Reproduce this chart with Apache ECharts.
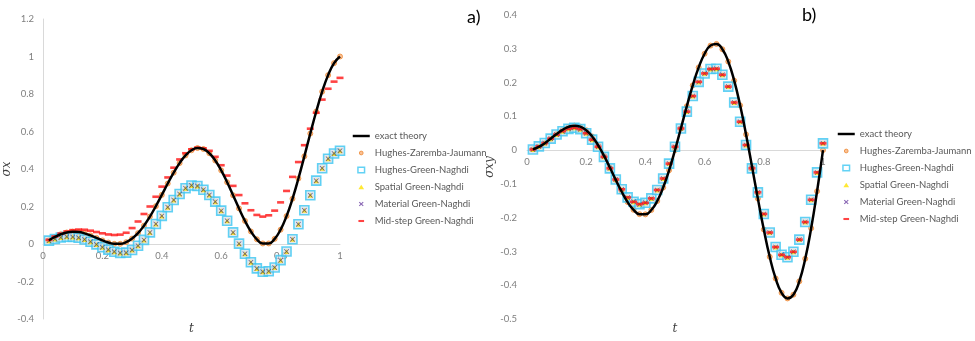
<!DOCTYPE html>
<html><head><meta charset="utf-8">
<script src="https://cdn.jsdelivr.net/npm/echarts@6/dist/echarts.min.js"></script>
<style>html,body{margin:0;padding:0;background:#fff}#c{width:975px;height:341px}</style>
</head><body><div id="c"></div>
<script>
// time samples
const T = [0.02,0.04,0.06,0.08,0.10,0.12,0.14,0.16,0.18,0.20,0.22,0.24,0.26,0.28,0.30,0.32,0.34,0.36,0.38,0.40,
  0.42,0.44,0.46,0.48,0.50,0.52,0.54,0.56,0.58,0.60,0.62,0.64,0.66,0.68,0.70,0.72,0.74,0.76,0.78,0.80,
  0.82,0.84,0.86,0.88,0.90,0.92,0.94,0.96,0.98,1.00];

// a) sigma x
const sxExact = [0.0197,0.0375,0.0519,0.0614,0.0655,0.0638,0.0569,0.0459,0.0326,0.0191,0.0077,0.0009,0.0010,0.0098,0.0287,0.0580,0.0976,0.1463,0.2019,0.2618,
  0.3225,0.3804,0.4315,0.4725,0.5000,0.5118,0.5066,0.4841,0.4454,0.3927,0.3295,0.2600,0.1895,0.1233,0.0669,0.0253,0.0029,0.0030,0.0274,0.0764,
  0.1487,0.2412,0.3494,0.4676,0.5891,0.7065,0.8126,0.9006,0.9646,1.0000];
const sxHZJ = sxExact.slice();
const sxGN = [0.018,0.027,0.035,0.039,0.038,0.033,0.024,0.012,-0.002,-0.017,-0.030,-0.041,-0.048,-0.046,-0.032,-0.009,0.022,0.062,0.107,0.150,
  0.196,0.235,0.267,0.297,0.312,0.309,0.289,0.261,0.226,0.178,0.124,0.062,0.002,-0.052,-0.097,-0.130,-0.148,-0.145,-0.125,-0.086,
  -0.040,0.025,0.105,0.180,0.260,0.338,0.404,0.455,0.483,0.497];
const sxSpatial = sxGN.slice();
const sxMaterial = sxGN.slice();
const sxMid = [0.022,0.040,0.056,0.067,0.074,0.077,0.076,0.071,0.064,0.057,0.051,0.048,0.050,0.060,0.085,0.120,0.160,0.200,0.252,0.306,
  0.355,0.407,0.451,0.484,0.505,0.514,0.510,0.497,0.465,0.420,0.365,0.310,0.261,0.217,0.180,0.155,0.146,0.153,0.178,0.222,
  0.283,0.358,0.437,0.527,0.615,0.700,0.770,0.828,0.866,0.886];

// b) sigma xy
const sxyExact = [0.0025,0.0096,0.0205,0.0338,0.0476,0.0599,0.0688,0.0724,0.0693,0.0588,0.0405,0.0150,-0.0163,-0.0515,-0.0882,-0.1233,-0.1538,-0.1768,-0.1896,-0.1902,
  -0.1773,-0.1506,-0.1108,-0.0597,0.0000,0.0647,0.1301,0.1917,0.2448,0.2853,0.3094,0.3143,0.2986,0.2620,0.2057,0.1325,0.0464,-0.0476,-0.1436,-0.2351,
  -0.3159,-0.3800,-0.4224,-0.4391,-0.4280,-0.3884,-0.3217,-0.2313,-0.1219,0.0000];
const sxyHZJ = sxyExact.slice();
const sxyGN = [0.002,0.011,0.021,0.034,0.046,0.056,0.063,0.066,0.062,0.050,0.031,0.010,-0.020,-0.054,-0.087,-0.116,-0.140,-0.153,-0.160,-0.156,
  -0.143,-0.118,-0.084,-0.040,0.010,0.064,0.114,0.160,0.202,0.227,0.240,0.241,0.223,0.188,0.141,0.084,0.015,-0.054,-0.125,-0.189,
  -0.244,-0.287,-0.310,-0.317,-0.301,-0.265,-0.213,-0.147,-0.066,0.020];
const sxySpatial = sxyGN.slice();
const sxyMaterial = sxyGN.slice();
const sxyMid = sxyGN.slice();

const names = ['exact theory','Hughes-Zaremba-Jaumann','Hughes-Green-Naghdi','Spatial Green-Naghdi','Material Green-Naghdi','Mid-step Green-Naghdi'];

const FONT = 'Lato';
const LBL = '#7f7f7f';
const AX = '#d9d9d9';
const CROSS = 'path://M0,1L1,0L5,4L9,0L10,1L6,5L10,9L9,10L5,6L1,10L0,9L4,5Z';
const ICON = {
  line: 'path://M0,0M18,7M0,2.2H18V4.8H0Z',
  circle: 'path://M0,0M18,7M11,3.5A2,2 0 1 1 7,3.5A2,2 0 1 1 11,3.5Z',
  square: 'path://M0,0M18,7M5.5,0.5H12.5V6.5H5.5Z',
  tri: 'path://M0,0M18,7M9,1L12,6H6Z',
  cross: 'path://M0,0M18,7M6.5,1.8L7.3,1L9,2.7L10.7,1L11.5,1.8L9.8,3.5L11.5,5.2L10.7,6L9,4.3L7.3,6L6.5,5.2L8.2,3.5Z',
  dash: 'path://M0,0M18,7M6,2.4H12V4.6H6Z'
};
const ST = {
  hzj: {color:'#f9b27a', borderColor:'#ee8a35', borderWidth:1},
  hgn: {color:'rgba(205,218,228,0.75)', borderColor:'#3cc7f2', borderWidth:1.6},
  sp: {color:'#ffe200'},
  mat: {color:'#45306a'},
  mid: {color:'#ff1414'}
};

function pairs(v){ return T.map((t,i)=>[t, v[i]]); }
function mk(g, ex, hzj, hgn, sp, mat, mid){
  return [
    {name:names[0], type:'line', xAxisIndex:g, yAxisIndex:g, data:pairs(ex), smooth:true, symbol:'none',
      lineStyle:{color:'#000', width:2.5}, itemStyle:{color:'#000'}},
    {name:names[1], type:'scatter', xAxisIndex:g, yAxisIndex:g, data:pairs(hzj), symbol:'circle', symbolSize:5, itemStyle:ST.hzj},
    {name:names[2], type:'scatter', xAxisIndex:g, yAxisIndex:g, data:pairs(hgn), symbol:'rect', symbolSize:9, itemStyle:ST.hgn},
    {name:names[3], type:'scatter', xAxisIndex:g, yAxisIndex:g, data:pairs(sp), symbol:'triangle', symbolSize:5, itemStyle:ST.sp},
    {name:names[4], type:'scatter', xAxisIndex:g, yAxisIndex:g, data:pairs(mat), symbol:CROSS, symbolSize:5, itemStyle:ST.mat},
    {name:names[5], type:'scatter', xAxisIndex:g, yAxisIndex:g, data:pairs(mid), symbol:'rect', symbolSize:[7,2.6], itemStyle:ST.mid}
  ];
}
function legendData(){
  return [
    {name:names[0], icon:ICON.line, itemStyle:{color:'#000', borderWidth:0}},
    {name:names[1], icon:ICON.circle, itemStyle:ST.hzj},
    {name:names[2], icon:ICON.square, itemStyle:{color:'#fff', borderColor:'#3cc7f2', borderWidth:1.5}},
    {name:names[3], icon:ICON.tri, itemStyle:ST.sp},
    {name:names[4], icon:ICON.cross, itemStyle:{color:'#6a3fa0'}},
    {name:names[5], icon:ICON.dash, itemStyle:ST.mid}
  ];
}
function fmt(v){ const r = Math.round(v*10)/10; return String(r); }
function xAx(g, off, gap){
  return {type:'value', gridIndex:g, min:0, max:1, interval:0.2, position:'bottom', offset:off,
    axisLine:{show:true, onZero:false, lineStyle:{color:AX, width:1}}, axisTick:{show:false}, splitLine:{show:false},
    axisLabel:{color:LBL, fontSize:9.5, fontFamily:FONT, margin:7, formatter:fmt},
    name:'t', nameLocation:'middle', nameGap:gap,
    nameTextStyle:{fontStyle:'italic', fontFamily:'DejaVu Serif', fontSize:12, color:'#404040'}};
}
function yAx(g, min, max, iv, nm, showLine, margin){
  return {type:'value', gridIndex:g, min:min, max:max, interval:iv,
    axisLine:{show:showLine, onZero:false, lineStyle:{color:AX, width:1}}, axisTick:{show:false}, splitLine:{show:false},
    axisLabel:{color:LBL, fontSize:9.5, fontFamily:FONT, margin:margin, formatter:fmt},
    name:nm, nameLocation:'middle', nameGap:30, nameRotate:90,
    nameTextStyle:{fontStyle:'italic', fontFamily:'DejaVu Serif', fontSize:12, color:'#404040'}};
}

const chart = echarts.init(document.getElementById('c'));
chart.setOption({
  animation:false,
  backgroundColor:'#fff',
  title:[
    {text:'a)', left:462, top:3, textStyle:{fontSize:18, fontWeight:'normal', color:'#000', fontFamily:FONT}},
    {text:'b)', left:797, top:1, textStyle:{fontSize:18, fontWeight:'normal', color:'#000', fontFamily:FONT}}
  ],
  grid:[
    {left:43, top:19, width:297, height:300, outerBoundsMode:'none', containLabel:false},
    {left:527, top:15, width:296, height:304, outerBoundsMode:'none', containLabel:false}
  ],
  xAxis:[xAx(0, -75, 79), xAx(1, -169, 173)],
  yAxis:[yAx(0, -0.4, 1.2, 0.2, 'σx', true, 9), yAx(1, -0.5, 0.4, 0.1, 'σxy', false, 10)],
  legend:[
    {orient:'vertical', left:352, top:131, padding:0, itemWidth:17, itemHeight:7, itemGap:7, data:legendData(),
      textStyle:{color:'#595959', fontSize:9.5, fontFamily:FONT}, selectedMode:false},
    {orient:'vertical', left:837, top:129, padding:0, itemWidth:17, itemHeight:7, itemGap:7, data:legendData(),
      textStyle:{color:'#595959', fontSize:9.5, fontFamily:FONT}, selectedMode:false}
  ],
  series:[].concat(
    mk(0, sxExact, sxHZJ, sxGN, sxSpatial, sxMaterial, sxMid),
    mk(1, sxyExact, sxyHZJ, sxyGN, sxySpatial, sxyMaterial, sxyMid)
  )
});
</script></body></html>
